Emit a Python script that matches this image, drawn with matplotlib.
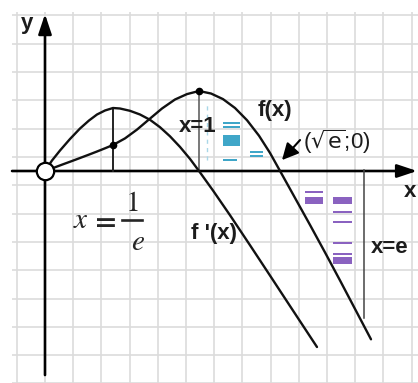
import matplotlib
matplotlib.use("Agg")
import matplotlib.pyplot as plt
from matplotlib.patches import Rectangle
import numpy as np

plt.rcParams['font.family'] = ['Liberation Sans', 'DejaVu Sans']

# ---- data (units: x = 1 at the maximum of f) ----
fprime_x = [0.0, 0.0455, 0.0974, 0.1623, 0.2273, 0.2857, 0.3377, 0.3896, 0.4416, 0.4870,
            0.5519, 0.6169, 0.6818, 0.7468, 0.8117, 0.8766, 0.9416, 1.0, 1.0909, 1.2013,
            1.3312, 1.4610, 1.5909, 1.7662]
fprime_y = [0.0, 0.0682, 0.1331, 0.2078, 0.2760, 0.3279, 0.3669, 0.3929, 0.4091, 0.4058,
            0.3909, 0.3669, 0.3325, 0.2844, 0.2253, 0.1565, 0.0786, 0.0, -0.1266, -0.2870,
            -0.4818, -0.6786, -0.8766, -1.1429]

f_x = [0.0, 0.0649, 0.1169, 0.1753, 0.2273, 0.2857, 0.3377, 0.3896, 0.4416, 0.5195, 0.5974,
       0.6818, 0.7597, 0.8442, 0.9221, 1.0, 1.0779, 1.1558, 1.2338, 1.3117, 1.3896, 1.4610,
       1.5325, 1.6234, 1.7208, 1.8182, 1.9156, 2.0130, 2.1169]
f_y = [0.0, 0.0240, 0.0435, 0.0649, 0.0844, 0.1065, 0.1266, 0.1474, 0.1688, 0.2117, 0.2688,
       0.3403, 0.4058, 0.4643, 0.4994, 0.5195, 0.5032, 0.4669, 0.4091, 0.3299, 0.2292, 0.1175,
       -0.0110, -0.1747, -0.3500, -0.5286, -0.7104, -0.8955, -1.0929]

inv_e_x, inv_e_top = 0.4416, 0.4091      # x = 1/e
one_x, one_top = 1.0, 0.5195             # x = 1
e_x, e_top, e_bottom = 2.071, 0.006, -0.955   # x = e
dots_x = [0.4416, 1.0]
dots_y = [0.1688, 0.5195]

# decorative colour smudges (x0, y0, w, h)
blue_rects = [(1.156, 0.307, 0.110, 0.012), (1.156, 0.281, 0.110, 0.010),
              (1.156, 0.162, 0.110, 0.072), (1.156, 0.066, 0.091, 0.010),
              (1.331, 0.118, 0.085, 0.010), (1.331, 0.092, 0.085, 0.010)]
purple_rects = [(1.688, -0.140, 0.117, 0.010), (1.688, -0.214, 0.117, 0.045),
                (1.870, -0.214, 0.124, 0.045), (1.870, -0.271, 0.124, 0.010),
                (1.870, -0.336, 0.124, 0.010), (1.870, -0.473, 0.124, 0.010),
                (1.870, -0.544, 0.124, 0.010), (1.870, -0.604, 0.124, 0.046)]

fig = plt.figure(figsize=(4.18, 3.83), dpi=100)
ax = fig.add_axes([0, 0, 1, 1])
ax.set_xlim(-0.2922, 2.4221)
ax.set_ylim(-1.3766, 1.1104)
ax.axis('off')

# grid paper
gx = np.arange(-1, 14) * 0.1831
gy = 0.0909 + np.arange(-8, 6) * 0.1838
ax.vlines(gx, -1.3766, 1.03, colors='#dcdcdc', lw=1.2, zorder=0)
ax.hlines(gy, -0.215, 2.4221, colors='#dcdcdc', lw=1.2, zorder=0)

# axes
ax.annotate('', xy=(2.416, 0), xytext=(-0.214, 0),
            arrowprops=dict(arrowstyle='-|>,head_length=0.6,head_width=0.2', lw=1.9,
                            color='black', shrinkA=0, shrinkB=0, mutation_scale=20), zorder=3)
ax.annotate('', xy=(0, 1.019), xytext=(0, -1.325),
            arrowprops=dict(arrowstyle='-|>,head_length=0.6,head_width=0.2', lw=1.9,
                            color='black', shrinkA=0, shrinkB=0, mutation_scale=20), zorder=3)

# curves
ax.plot(fprime_x, fprime_y, color='#111111', lw=1.7, solid_capstyle='round',
        solid_joinstyle='round', zorder=4)
ax.plot(f_x, f_y, color='#111111', lw=1.7, solid_capstyle='round',
        solid_joinstyle='round', zorder=4)

# vertical helper lines
ax.plot([inv_e_x, inv_e_x], [0, inv_e_top], color='#222222', lw=1.4, zorder=3)
ax.plot([one_x, one_x], [0, one_top], color='#555555', lw=1.1, zorder=3)
ax.plot([e_x, e_x], [e_top, e_bottom], color='#444444', lw=1.1, zorder=3)

ax.plot(dots_x, dots_y, 'o', color='black', ms=4.5, zorder=5)
ax.plot([0], [0], 'o', ms=12.5, mfc='white', mec='black', mew=1.6, zorder=6)

# colour smudges
for (x0, y0, w, h) in blue_rects:
    ax.add_patch(Rectangle((x0, y0), w, h, color='#3fa6c8', lw=0, zorder=2))
ax.plot([1.052, 1.052], [0.071, 0.442], color='#a9d7e8', lw=1.0, ls=(0, (3, 3)), zorder=2)
for (x0, y0, w, h) in purple_rects:
    ax.add_patch(Rectangle((x0, y0), w, h, color='#8a62c0', lw=0, zorder=2))

# labels
tk = dict(color='#1c1c1c', fontweight='bold', ha='center', va='center', zorder=7)
ax.text(-0.117, 0.955, 'y', fontsize=16, **tk)
ax.text(2.372, -0.13, 'x', fontsize=16, **tk)
ax.text(0.994, 0.286, 'x=1', fontsize=16, **tk)
ax.text(1.494, 0.390, 'f(x)', fontsize=16, **tk)
ax.text(1.097, -0.403, "f '(x)", fontsize=16, **tk)
ax.text(2.240, -0.494, 'x=e', fontsize=16, **tk)
ax.text(1.896, 0.188, r'($\sqrt{\mathrm{e}}$;0)', fontsize=16, color='#1c1c1c',
        ha='center', va='center', math_fontfamily='dejavusans', zorder=7)

# x = 1/e written as a hand-set fraction
sk = dict(color='#262626', ha='center', va='center', math_fontfamily='stix', zorder=7)
ax.text(0.234, -0.318, r'$x$', fontsize=21, **sk)
ax.text(0.380, -0.318, r'$\mathbf{=}$', fontsize=21, **sk)
ax.text(0.565, -0.205, r'$1$', fontsize=21, **sk)
ax.text(0.604, -0.462, r'$e$', fontsize=21, **sk)
ax.plot([0.500, 0.630], [-0.318, -0.318], color='#262626', lw=1.9, zorder=7)

ax.annotate('', xy=(1.539, 0.071), xytext=(1.656, 0.201),
            arrowprops=dict(arrowstyle='-|>,head_length=0.5,head_width=0.25', lw=1.5,
                            color='black', shrinkA=0, shrinkB=0, mutation_scale=20), zorder=7)

fig.savefig('out.png', dpi=100)
